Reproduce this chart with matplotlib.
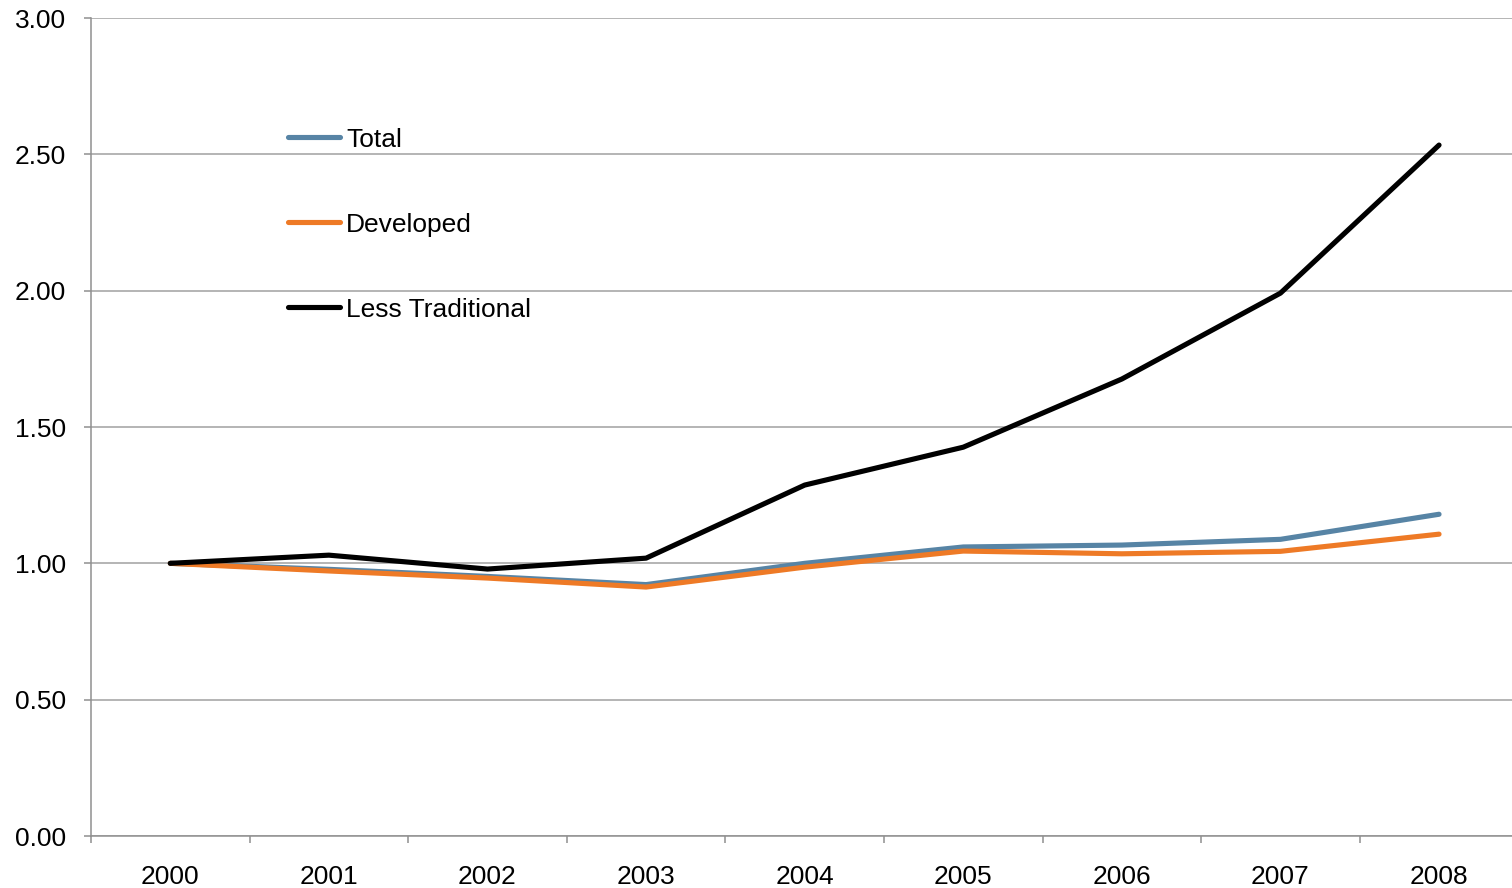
import matplotlib.pyplot as plt

# Данные
years = ['2000', '2001', '2002', '2003', '2004', '2005', '2006', '2007', '2008']
total = [1.00, 0.978, 0.952, 0.922, 1.000, 1.060, 1.067, 1.088, 1.180]
developed = [1.00, 0.972, 0.946, 0.913, 0.986, 1.045, 1.035, 1.044, 1.107]
less_traditional = [1.00, 1.030, 0.979, 1.019, 1.287, 1.426, 1.676, 1.991, 2.534]

plt.rcParams['font.family'] = ['Liberation Sans', 'DejaVu Sans']

fig = plt.figure(figsize=(15.12, 8.88), dpi=100)
ax = fig.add_axes([91 / 1512, 52 / 888, 1 - 91 / 1512, (836 - 18) / 888])

x = range(len(years))
ax.plot(x, total, color='#5784A5', lw=3.7, label='Total', solid_capstyle='round', zorder=3)
ax.plot(x, developed, color='#EE7A26', lw=3.7, label='Developed', solid_capstyle='round', zorder=3)
ax.plot(x, less_traditional, color='black', lw=3.7, label='Less Traditional', solid_capstyle='round', zorder=4)

ax.set_ylim(0, 3)
ax.set_yticks([0, 0.5, 1, 1.5, 2, 2.5, 3])
ax.set_yticklabels(['%.2f' % v for v in [0, 0.5, 1, 1.5, 2, 2.5, 3]])
ax.set_xlim(-0.5, 8.46)
ax.set_xticks([i + 0.5 for i in range(-1, 8)])
ax.set_xticklabels([])
ax.set_xticks(list(x), minor=True)
ax.set_xticklabels(years, minor=True)

ax.grid(axis='y', color='#A0A0A0', lw=1.1)
ax.set_axisbelow(True)
for s in ['top', 'right']:
    ax.spines[s].set_visible(False)
for s in ['left', 'bottom']:
    ax.spines[s].set_color('#909090')
    ax.spines[s].set_linewidth(1.1)

ax.tick_params(axis='y', length=5, color='#909090', width=1.1, pad=13, labelsize=19)
ax.tick_params(axis='x', which='major', length=5, color='#909090', width=1.1, direction='out')
ax.tick_params(axis='x', which='minor', length=0, pad=21, labelsize=19)

ax.legend(loc='upper left', bbox_to_anchor=(0.1386, 0.866), frameon=False,
          fontsize=19, handlelength=1.97, handletextpad=0.23, labelspacing=2.31,
          borderaxespad=0, borderpad=0)

plt.savefig('out.png', dpi=100)
